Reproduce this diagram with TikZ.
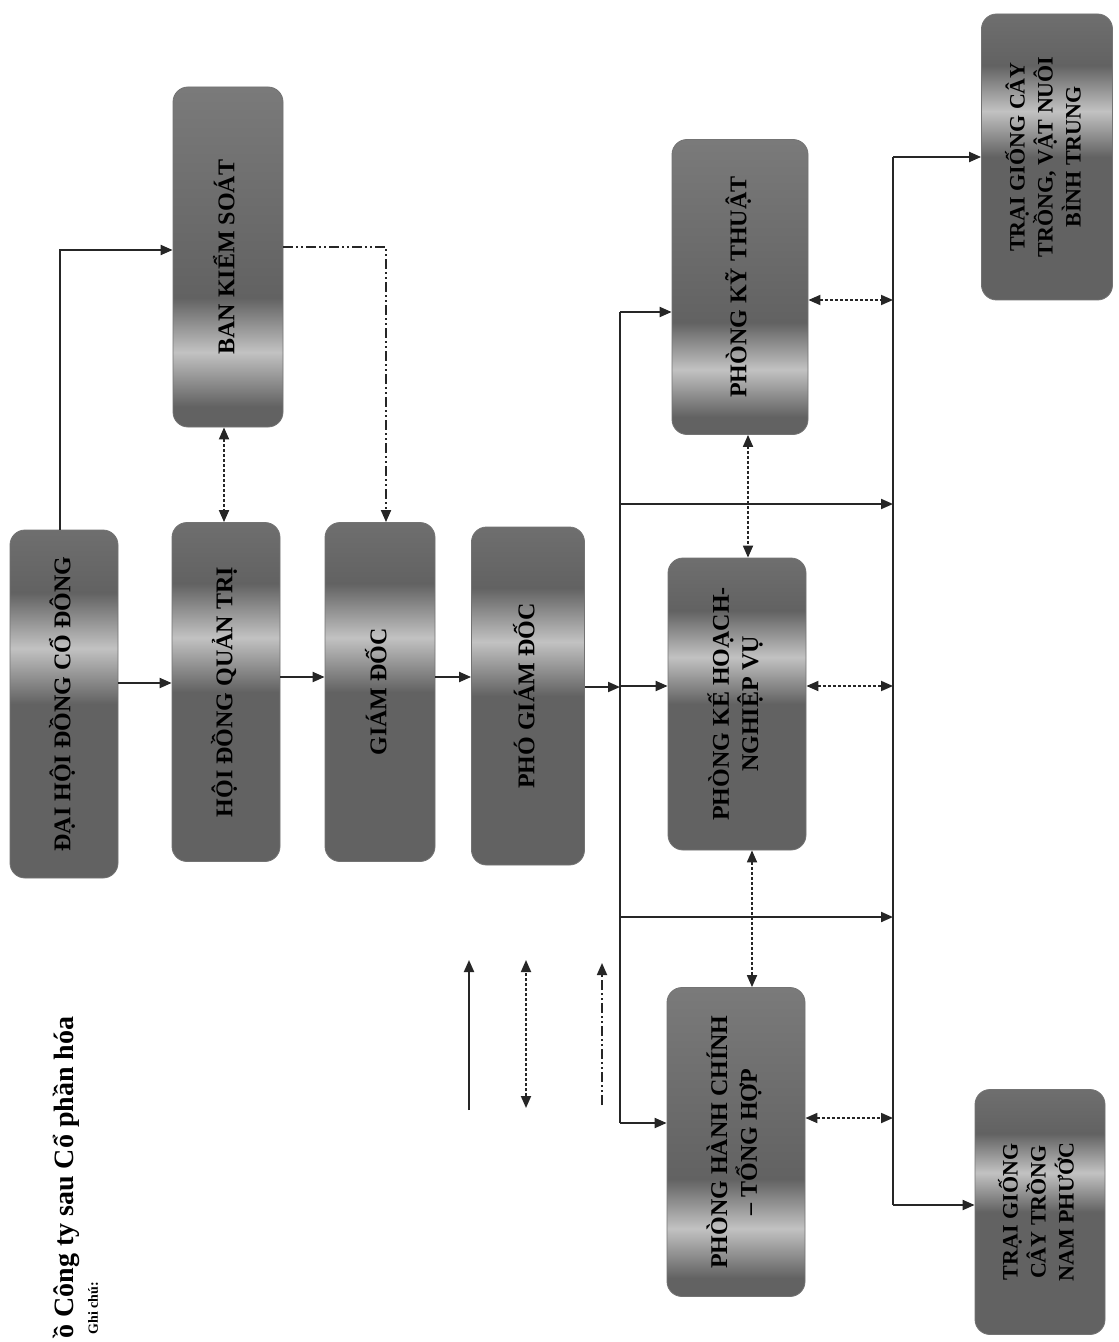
\documentclass[tikz,border=0pt]{standalone}
\usepackage{fontspec}
\setmainfont{Liberation Serif}
\usepackage{graphicx}
\usetikzlibrary{arrows.meta}
\definecolor{banddk}{HTML}{626262}
\definecolor{bandmd}{HTML}{7E7E7E}
\definecolor{bandlt}{HTML}{C2C2C2}
\pgfdeclareverticalshading{bandA}{100bp}{color(0bp)=(bandlt); color(9bp)=(bandmd); color(20bp)=(banddk); color(50bp)=(banddk); color(58bp)=(bandlt); color(66bp)=(banddk); color(86bp)=(bandmd); color(100bp)=(banddk)}
\pgfdeclareverticalshading{bandB}{100bp}{color(0bp)=(bandmd); color(10bp)=(banddk); color(28bp)=(banddk); color(36bp)=(bandlt); color(44bp)=(banddk); color(80bp)=(bandmd); color(90bp)=(bandlt!80!banddk); color(100bp)=(banddk)}
\newcommand{\vtxt}[1]{\rotatebox{90}{\begin{tabular}{@{}c@{}}#1\end{tabular}}}

\begin{document}
\begin{tikzpicture}[x=0.5pt,y=-0.5pt,>={Triangle[length=6pt,width=5pt]},
font=\bfseries\fontsize{12}{14}\selectfont,
block/.style={draw=black!55,rounded corners=7.5pt,shading=bandA,inner sep=2pt},
farm/.style={font=\bfseries\fontsize{11}{14}\selectfont},
sz/.style 2 args={minimum width=#1*0.5pt,minimum height=#2*0.5pt},
link/.style={line width=1pt,draw=black!85},
arrow/.style={link,->},
dotarrow/.style={<->,line width=0.9pt,draw=black!85,dash pattern=on 1.5pt off 1pt},
dasharrow/.style={->,line width=0.9pt,draw=black!85,dash pattern=on 5pt off 1.5pt on 1pt off 1.5pt on 1pt off 1.5pt}]
\path[use as bounding box,fill=white] (0,0) rectangle (1118,1342);
\node[block,sz={108}{348}] (dhdcd) at (64,704) {\vtxt{ĐẠI HỘI ĐỒNG CỔ ĐÔNG}};
\node[block,sz={108}{339}] (hdqt) at (226,692) {\vtxt{HỘI ĐỒNG QUẢN TRỊ}};
\node[block,shading=bandB,sz={110}{340}] (bks) at (228,257) {\vtxt{BAN KIỂM SOÁT}};
\node[block,sz={110}{339}] (gd) at (380,692) {\vtxt{GIÁM ĐỐC}};
\node[block,sz={113}{338}] (pgd) at (528,696) {\vtxt{PHÓ GIÁM ĐỐC}};
\node[block,shading=bandB,sz={136}{295}] (pkt) at (740,287) {\vtxt{PHÒNG KỸ THUẬT}};
\node[block,sz={138}{292}] (pkh) at (737,704) {\vtxt{PHÒNG KẾ HOẠCH-\\NGHIỆP VỤ}};
\node[block,shading=bandB,sz={138}{309}] (phc) at (736,1142) {\vtxt{PHÒNG HÀNH CHÍNH\\– TỔNG HỢP}};
\node[block,farm,sz={131}{286}] (tbt) at (1047,157) {\vtxt{TRẠI GIỐNG CÂY\\TRỒNG, VẬT NUÔI\\BÌNH TRUNG}};
\node[block,farm,sz={130}{245}] (tnp) at (1040,1212) {\vtxt{TRẠI GIỐNG\\CÂY TRỒNG\\NAM PHƯỚC}};
\node[inner sep=0pt,anchor=south,font=\bfseries\fontsize{14}{16}\selectfont] (title) at (66,1339) {\rotatebox{90}{ồ Công ty sau Cổ phần hóa}};
\node[inner sep=0pt,anchor=south,font=\bfseries\fontsize{7}{8}\selectfont] (note) at (93,1335) {\rotatebox{90}{Ghi chú:}};
\coordinate (lb1) at (620,312); \coordinate (lb2) at (620,1123);
\coordinate (rb1) at (893,157); \coordinate (rb2) at (893,1205);
\draw[arrow] (dhdcd.east |- 0,683) -- (hdqt.west |- 0,683);
\draw[arrow] (dhdcd.north -| 60,0) |- (bks.west |- 0,250);
\draw[dotarrow] (bks.south -| 224,0) -- (hdqt.north -| 224,0);
\draw[dasharrow] (bks.east |- 0,247) -| (gd.north -| 386,0);
\draw[arrow] (hdqt.east |- 0,677) -- (gd.west |- 0,677);
\draw[arrow] (gd.east |- 0,677) -- (pgd.west |- 0,677);
\draw[link] (lb1) -- (lb2); \draw[link] (rb1) -- (rb2);
\draw[arrow] (pgd.east |- 0,687) -- (lb1 |- 0,687);
\draw[arrow] (lb1) -- (pkt.west |- lb1);
\draw[arrow] (lb1 |- 0,686) -- (pkh.west |- 0,686);
\draw[arrow] (lb2) -- (phc.west |- lb2);
\draw[arrow] (lb1 |- 0,504) -- (rb1 |- 0,504);
\draw[arrow] (lb1 |- 0,917) -- (rb1 |- 0,917);
\draw[arrow] (rb1) -- (tbt.west |- rb1);
\draw[arrow] (rb2) -- (tnp.west |- rb2);
\draw[dotarrow] (pkt.east |- 0,300) -- (rb1 |- 0,300);
\draw[dotarrow] (pkh.east |- 0,686) -- (rb1 |- 0,686);
\draw[dotarrow] (phc.east |- 0,1118) -- (rb1 |- 0,1118);
\draw[dotarrow] (pkt.south -| 748,0) -- (pkh.north -| 748,0);
\draw[dotarrow] (pkh.south -| 752,0) -- (phc.north -| 752,0);
\coordinate (k1) at (469,1110); \coordinate (k2) at (469,960);
\coordinate (k3) at (526,1108); \coordinate (k4) at (526,960);
\coordinate (k5) at (602,1105); \coordinate (k6) at (602,963);
\draw[arrow] (k1) -- (k2);
\draw[dotarrow] (k3) -- (k4);
\draw[dasharrow] (k5) -- (k6);
\end{tikzpicture}
\end{document}
